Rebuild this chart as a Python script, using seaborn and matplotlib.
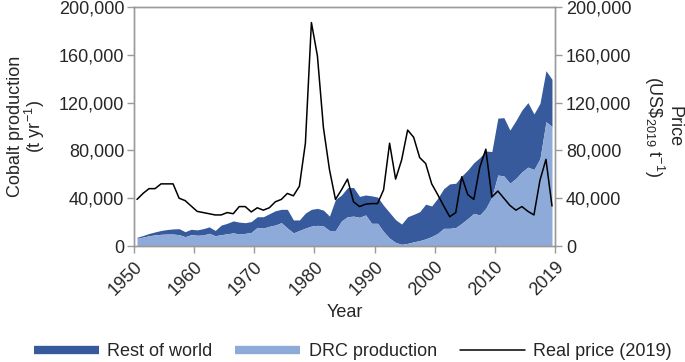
import numpy as np
import pandas as pd
import matplotlib
matplotlib.use("Agg")
import matplotlib.pyplot as plt
from matplotlib.lines import Line2D
import seaborn as sns

years = list(range(1950, 2020))

drc_production = [
    6.4, 7.5, 8.6, 9.3, 9.8, 10.0, 10.0, 9.5, 7.8, 9.5,
    9.0, 9.2, 10.6, 8.6, 9.5, 10.2, 11.0, 10.0, 10.6, 11.4,
    15.6, 15.0, 16.5, 17.6, 19.5, 15.0, 11.0, 13.0, 15.0, 16.7,
    17.3, 16.7, 13.0, 13.0, 21.0, 24.5, 25.0, 24.0, 26.0, 19.0,
    19.0, 12.0, 6.5, 3.0, 1.4, 2.2, 3.5, 4.5, 6.0, 8.0,
    10.6, 14.8, 14.8, 15.5, 19.0, 23.0, 27.3, 26.0, 31.5, 41.0,
    59.4, 58.6, 52.5, 56.6, 62.0, 66.0, 64.0, 73.0, 104.0, 100.0,
]
drc_production = [v * 1000 for v in drc_production]

rest_of_world = [
    0.9, 1.3, 1.9, 2.5, 3.2, 3.8, 4.3, 5.0, 4.2, 4.5,
    4.5, 5.3, 5.4, 4.4, 8.0, 8.8, 10.0, 10.0, 8.9, 9.1,
    8.9, 9.5, 10.5, 11.9, 11.2, 15.7, 10.8, 8.8, 12.6, 14.0,
    14.2, 13.3, 12.0, 26.0, 21.7, 24.3, 24.0, 17.5, 16.7, 23.0,
    22.0, 22.0, 21.5, 19.0, 17.0, 22.3, 23.0, 24.2, 29.0, 25.5,
    29.4, 33.2, 37.2, 37.0, 39.6, 40.6, 42.4, 48.0, 48.0, 38.0,
    47.6, 48.8, 44.5, 48.4, 51.8, 54.0, 46.5, 46.4, 42.7, 39.5,
]
rest_of_world = [v * 1000 for v in rest_of_world]

real_price = [
    39, 44, 48, 48, 52, 52, 52, 40, 38, 33.5,
    29, 28, 27, 26, 26, 28, 27, 33, 33, 28.5,
    32, 30, 32, 37, 39, 44, 42, 50, 86, 187,
    159, 99, 64, 39, 47, 56, 37, 33, 35, 35.5,
    35.5, 47, 86, 56, 72, 97, 91, 74, 69, 52,
    43, 33.5, 24.5, 28, 58, 43, 39, 66, 81, 41,
    46, 40, 34, 30, 33, 29, 26, 55, 72.5, 33.5,
]
real_price = [v * 1000 for v in real_price]

x_tick_labels = ["1950", "1960", "1970", "1980", "1990", "2000", "2010", "2019"]
y_tick_values = [0, 40000, 80000, 120000, 160000, 200000]

df = pd.DataFrame({
    "year": years,
    "drc": drc_production,
    "rest": rest_of_world,
    "price": real_price,
})
df["total"] = df["drc"] + df["rest"]

sns.set_theme(style="white")
plt.rcParams["font.family"] = ["Liberation Sans", "DejaVu Sans"]
plt.rcParams["mathtext.default"] = "regular"
FS = 13

dark = "#375a9c"
light = "#8eaad8"
spine_c = "#9a9a9a"

fig = plt.figure(figsize=(6.85, 3.62), dpi=100)
ax = fig.add_axes([0.1956, 0.3204, 0.6146, 0.6603])

ax.fill_between(df["year"], df["drc"], df["total"], color=dark, lw=0)
ax.fill_between(df["year"], 0, df["drc"], color=light, lw=0)

ax2 = ax.twinx()
sns.lineplot(data=df, x="year", y="price", ax=ax2, color="black", lw=1.1)

for a in (ax, ax2):
    a.set_ylim(0, 200000)
    a.set_xlim(1949.5, 2019.5)
    for s in a.spines.values():
        s.set_color(spine_c)
        s.set_linewidth(1.0)

ax.set_xticks(np.arange(1949.5, 2020, 10))
ax.set_xticklabels(x_tick_labels, rotation=45, ha="right", va="top",
                   rotation_mode="anchor", fontsize=FS)
ax.set_yticks(y_tick_values)
ax.set_yticklabels([f"{v:,}" for v in y_tick_values], fontsize=FS)
ax2.set_yticks(y_tick_values)
ax2.set_yticklabels([f"{v:,}" for v in y_tick_values], fontsize=FS)

ax.tick_params(axis="both", which="major", direction="out", length=5, width=1.0,
               color=spine_c, bottom=True, left=True, pad=2)
ax.tick_params(axis="x", pad=4)
ax2.tick_params(axis="y", direction="out", length=5, width=1.0, color=spine_c, right=True, pad=3)

ax.set_xlabel("Year", fontsize=FS, va="center", ha="center")
ax.xaxis.set_label_coords(0.5, -0.28)
ax.set_ylabel("Cobalt production\n" + r"(t yr$^{-1}$)", fontsize=FS, va="center",
              ha="center", linespacing=0.95)
ax.yaxis.set_label_coords(-0.255, 0.5)
ax2.set_ylabel("Price\n" + r"(US\$$_{2019}$ t$^{-1}$)", fontsize=FS, rotation=270,
               va="center", ha="center", linespacing=0.95)
ax2.yaxis.set_label_coords(1.255, 0.5)

handles = [
    Line2D([0], [0], color=dark, lw=6, solid_capstyle="butt"),
    Line2D([0], [0], color=light, lw=6, solid_capstyle="butt"),
    Line2D([0], [0], color="black", lw=1.1),
]
labels = ["Rest of world", "DRC production", "Real price (2019)"]
fig.legend(handles, labels, loc="center", bbox_to_anchor=(0.515, 0.028), ncol=3,
           frameon=False, fontsize=FS, handlelength=3.6, handletextpad=0.45,
           columnspacing=1.3, borderpad=0.0)

fig.savefig("out.png", dpi=100)
